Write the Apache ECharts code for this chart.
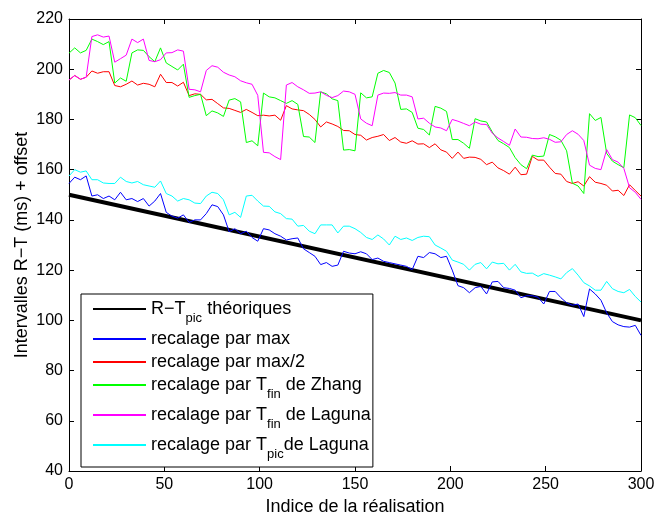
<!DOCTYPE html>
<html>
<head>
<meta charset="utf-8">
<script src="https://cdn.jsdelivr.net/npm/echarts@6/dist/echarts.min.js"></script>
<style>html,body{margin:0;padding:0;background:#fff;}#c{width:657px;height:514px;}</style>
</head>
<body>
<div id="c"></div>
<script>
// sample positions (index of the realisation), every 3rd realisation
const xStep = 3;

// theoretical R-Tpic line (end points)
const theoX = [0, 300];
const theoY = [150, 100];

// recalage par max (blue)
const maxV = [154.5,157,156,157.5,149.5,150,148.5,149.5,148,151,
148,148.5,147.3,148.5,145.5,147.5,150.5,143,141.5,140.7,
142,139,140,140,142.5,146,145.3,142,135.3,136.5,
134.5,135.5,133,131.5,136.5,136,134.5,133.5,132,132.5,
132.8,128.5,127,125.5,122.2,123,121.5,122,127.5,126.8,
126.5,127.3,126.5,124.2,124.8,123.5,123,122.5,122,121.5,
120.2,125.5,125,127,126.5,125,125.5,120,113.8,113,
111,113,113.5,110.5,115.3,115.5,113,112.7,112,109,
109.8,109.8,109.2,106.5,111.5,111.5,109,107,106,106.5,
101.5,112.5,110.5,108,103,99.5,98.2,97.5,97.3,98,
94];

// recalage par max/2 (red)
const halfV = [195.7,197.5,196,196.8,199.3,198.4,199,199,193.5,193,
194,195.3,193.7,194.4,194,193,198,194.7,194.7,193.3,
194.8,189.5,190.2,190,187.8,188,186.3,184.6,184.4,183.6,
182.8,184,182.8,181.5,181.7,181.4,181.7,179.7,185.5,184.2,
183.8,183.5,182,180,177,179,178.2,177.2,175.6,175.5,
174,173.7,171.8,172.8,173.3,174,171.6,172.8,171,170.5,
171.5,170.2,170.3,168.8,170.3,167.9,167,164.5,167,164.5,
165,164.9,164.1,162,163,160.7,159.6,158.2,161,158,
158.2,165.3,163.8,163.8,161,158.5,158.2,155.3,154.5,155.2,
153.5,157.2,155,154.5,153.8,151.5,151.8,149.7,154,151.7,
149.5];

// recalage par Tfin de Zhang (green)
const zhangV = [206.4,208.5,206.5,207.5,212,211,209.8,211,194.5,196.5,
195.2,206.5,207.7,207.5,205,203,208.5,202.5,201.1,199.7,
202,188.8,189.5,190,181.5,183.4,182.6,181.2,187.7,188.3,
187,170.8,171.5,169.5,190.5,189,188.6,187.5,186.4,187.5,
186,173.2,173,170.8,191,190.2,188.2,187.5,167.8,168,
167.5,190.6,188.6,189,198.4,199.5,198.7,194.5,184,184.2,
182.8,176.5,176,173.8,185.2,184.5,183.2,172,172,170.5,
168.5,180.3,179.4,179,175,171.6,170.3,168.8,164.8,162,
160.4,165.8,165.2,165.4,174,173.1,171.7,167.5,154.6,153.5,
150.5,182.3,179.6,180.8,166.5,163.4,162,160.8,181.8,180.7,
177.6];

// recalage par Tfin de Laguna (magenta)
const lagFinV = [195.7,197.5,196,196.8,213,213.7,212.8,213.2,202.8,204.2,
205.6,212,210.6,212,203.5,203,203.8,206.5,206.6,207.7,
207.2,192,191.8,191,199.5,201.4,200.8,198.8,197.7,197,
195.4,194.6,194,189.6,166.9,166.7,165.2,164,193.7,194.7,
193,191.8,190.4,190.5,191,189.6,188.7,189.5,191.3,191,
190,180.2,178.5,177.5,189.7,190.5,190.4,190.7,189.7,189.7,
189,180.2,180.5,178.5,177,176.6,175.5,180,179.3,178.4,
177.5,179,178.1,178,174.5,172.6,171.2,169.7,176.2,173,
172.9,172.4,172.3,172.7,172.1,170.9,171.1,174,175.5,174.1,
171.6,161.8,160.5,160,168,164,163,160.5,152.8,151,
148.2];

// recalage par Tpic de Laguna (cyan)
const lagPicV = [157.5,160,159,159.5,156,156,154.7,154.5,154.5,157,
155.3,154.7,155.3,154,153.5,153,155.5,150.5,149.5,147.5,
148.5,148,146.7,146.5,149.5,151,150.5,148,142,143,
141,149.5,149.8,147.5,145.5,145.4,143.2,142.5,140.5,140.3,
137.5,137.8,135.5,134.5,138,138,138,134.8,137.5,137.5,
136.5,135,133,132.2,134,132.4,130,133.5,132.2,132.8,
131.8,133,133.5,133.3,130,128.8,127.5,124,123.2,122.3,
120,122.3,123,120.5,123.2,122.5,122.7,120,122.3,119.3,
118.7,118.8,117.5,118.6,118,117.3,116.5,119,120.6,118,
115,113.7,112,112,115.5,112.6,111.5,111,112.3,109.5,
107.3];

const seriesNames = ['R\u2212T_{pic} théoriques','recalage par max','recalage par max/2',
  'recalage par T_{fin} de Zhang','recalage par T_{fin} de Laguna','recalage par T_{pic}de Laguna'];
const seriesColors = ['#000000','#0000ff','#ff0000','#00ff00','#ff00ff','#00ffff'];

const xTicks = [0, 300, 50];
const yTicks = [40, 220, 20];

const FONT = 'Liberation Sans, Arial, Helvetica, sans-serif';

function pairs(vals) {
  return vals.map((v, i) => [i * xStep, v]);
}

const chart = echarts.init(document.getElementById('c'), null, {renderer: 'canvas'});

const valueSets = [maxV, halfV, zhangV, lagFinV, lagPicV];
const series = [{
  name: seriesNames[0], type: 'line', xAxisIndex: 0, yAxisIndex: 0,
  data: theoX.map((x, i) => [x, theoY[i]]),
  symbol: 'none', lineStyle: {color: seriesColors[0], width: 4}, itemStyle: {color: seriesColors[0]},
  animation: false
}];
valueSets.forEach((vals, k) => {
  series.push({
    name: seriesNames[k + 1], type: 'line', xAxisIndex: 0, yAxisIndex: 0,
    data: pairs(vals), symbol: 'none',
    lineStyle: {color: seriesColors[k + 1], width: 1}, itemStyle: {color: seriesColors[k + 1]},
    animation: false
  });
});

const axisCommon = {
  axisLine: {show: true, onZero: false, lineStyle: {color: '#000', width: 1}},
  axisTick: {show: true, inside: true, length: 5, lineStyle: {color: '#000'}},
  splitLine: {show: false}
};

chart.setOption({
  animation: false,
  grid: {left: 69, right: 16, top: 19, bottom: 43, containLabel: false, outerBoundsMode: 'none'},
  xAxis: [
    Object.assign({type: 'value', position: 'bottom', min: xTicks[0], max: xTicks[1], interval: xTicks[2],
      name: 'Indice de la réalisation', nameLocation: 'middle', nameGap: 27, nameMoveOverlap: false,
      nameTextStyle: {fontFamily: FONT, fontSize: 18, color: '#000'},
      axisLabel: {fontFamily: FONT, fontSize: 16, color: '#000', margin: 6}}, axisCommon),
    Object.assign({type: 'value', position: 'top', min: xTicks[0], max: xTicks[1], interval: xTicks[2],
      axisLabel: {show: false}}, axisCommon)
  ],
  yAxis: [
    Object.assign({type: 'value', position: 'left', min: yTicks[0], max: yTicks[1], interval: yTicks[2],
      name: 'Intervalles R\u2212T (ms) + offset', nameLocation: 'middle', nameGap: 38, nameMoveOverlap: false,
      nameTextStyle: {fontFamily: FONT, fontSize: 18, color: '#000'},
      axisLabel: {fontFamily: FONT, fontSize: 16, color: '#000', margin: 6}}, axisCommon),
    Object.assign({type: 'value', position: 'right', min: yTicks[0], max: yTicks[1], interval: yTicks[2],
      axisLabel: {show: false}}, axisCommon)
  ],
  legend: {
    orient: 'vertical', left: 81, top: 294,
    backgroundColor: '#fff', borderColor: '#000', borderWidth: 1, borderRadius: 0,
    padding: [6, 2, 6, 11], itemWidth: 53, itemHeight: 14, itemGap: 5,
    itemStyle: {opacity: 0},
    data: seriesNames,
    formatter: function (name) { return name.replace(/_\{(\w+)\}/, '{s|$1}'); },
    textStyle: {fontFamily: FONT, fontSize: 18, color: '#000',
      rich: {s: {fontFamily: FONT, fontSize: 13, color: '#000', padding: [19, 0, 0, 0]}}}
  },
  series: series
});
</script>
</body>
</html>
